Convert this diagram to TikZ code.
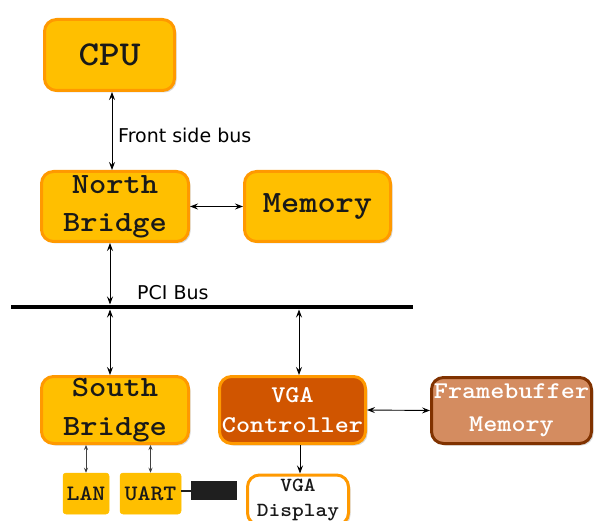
\documentclass[tikz,border=0pt]{standalone}
\usepackage{fontspec}
\setsansfont{DejaVu Sans}
\newfontfamily\boxfont{lmmonolt10-bold.otf}[FakeStretch=1.12]
\usetikzlibrary{shadows,arrows.meta,calc}
\definecolor{amber}{RGB}{255,191,0}
\definecolor{amberedge}{RGB}{255,153,0}
\definecolor{vgafill}{RGB}{208,85,0}
\definecolor{fbfill}{RGB}{212,140,96}
\definecolor{fbedge}{RGB}{128,50,0}
\begin{document}
\begin{tikzpicture}[x=1pt,y=-1pt,
  unit/.style={rounded corners=12pt, line width=3pt, draw=amberedge, fill=amber,
    drop shadow={opacity=0.3, shadow xshift=2pt, shadow yshift=-2pt},
    align=center, inner sep=0pt, text=black!90},
  port/.style={rounded corners=3pt, line width=0.5pt, draw=amber, fill=amber,
    align=center, inner sep=0pt, text=black!90},
  sz/.style 2 args={font={\boxfont\fontsize{#1}{#2}\selectfont}},
  lbl/.style={font=\sffamily\fontsize{19}{22}\selectfont, inner sep=0pt},
  conn/.style={line width=0.9pt, {Stealth[length=8pt,width=6pt,inset=3pt]}-{Stealth[length=8pt,width=6pt,inset=3pt]}},
  oneway/.style={line width=0.9pt, -{Stealth[length=8pt,width=6pt,inset=3pt]}},
  thin/.style={line width=0.6pt, draw=black!75, {Stealth[length=5pt,width=4pt,inset=2pt]}-{Stealth[length=5pt,width=4pt,inset=2pt]}}
]
\useasboundingbox (0,0) rectangle (594,521);

% processor and memory
\node[unit, sz={35}{40}, minimum width=130, minimum height=71] (cpu) at (109.5,55) {CPU};
\node[unit, sz={29.4}{38}, minimum width=147, minimum height=70] (nb) at (115,206.5) {North\\Bridge};
\node[unit, sz={31}{36}, minimum width=146, minimum height=70] (mem) at (317.5,206.5) {Memory};

% PCI bus
\coordinate (busL) at (11,307);
\coordinate (busR) at (413,307);
\draw[line width=4.5pt] (busL) -- (busR);

% peripherals
\node[unit, sz={29.4}{39}, minimum width=147, minimum height=67] (sb) at (115,410) {South\\Bridge};
\node[unit, sz={24}{30}, fill=vgafill, text=white, minimum width=146, minimum height=67] (vga) at (292.5,410) {VGA\\Controller};
\node[unit, sz={24}{33}, fill=fbfill, draw=fbedge, text=white, minimum width=160, minimum height=66] (fb) at (511.5,410.5) {Framebuffer\\Memory};
\node[unit, sz={20}{25}, fill=white, minimum width=101, minimum height=50] (disp) at (298,500) {VGA\\Display};
\node[port, sz={22}{26}, minimum width=46, minimum height=41] (lan) at (86,493.5) {LAN};
\node[port, sz={22}{26}, minimum width=61, minimum height=41] (uart) at (150.5,493.5) {UART};
\node[fill=black!88, inner sep=0pt, minimum width=46, minimum height=19] (plug) at (214,490.5) {};

% connectors
\coordinate (fsb) at (112,0);
\coordinate (pcix) at (110,0);
\coordinate (vgax) at (299,0);
\coordinate (dispx) at (300,0);
\draw[conn] (cpu.south -| fsb) -- (nb.north -| fsb);
\node[lbl, anchor=west] (fsblbl) at (118,135) {Front side bus};
\draw[conn] (nb.east) -- (mem.west);
\draw[conn] (nb.south -| pcix) -- ($(pcix |- busL)+(0,-2.5)$);
\node[lbl, anchor=west] (pcilbl) at (137,293) {PCI Bus};
\draw[conn] ($(pcix |- busL)+(0,2.5)$) -- (sb.north -| pcix);
\draw[conn] ($(vgax |- busL)+(0,2.5)$) -- (vga.north -| vgax);
\draw[conn] (vga.east) -- (fb.west);
\draw[oneway] (vga.south -| dispx) -- (disp.north -| dispx);
\draw[thin] (sb.south -| lan) -- (lan.north);
\draw[thin] (sb.south -| uart) -- (uart.north);
\draw[line width=2pt, black!88] (uart.east |- plug) -- (plug.west);
\end{tikzpicture}
\end{document}
